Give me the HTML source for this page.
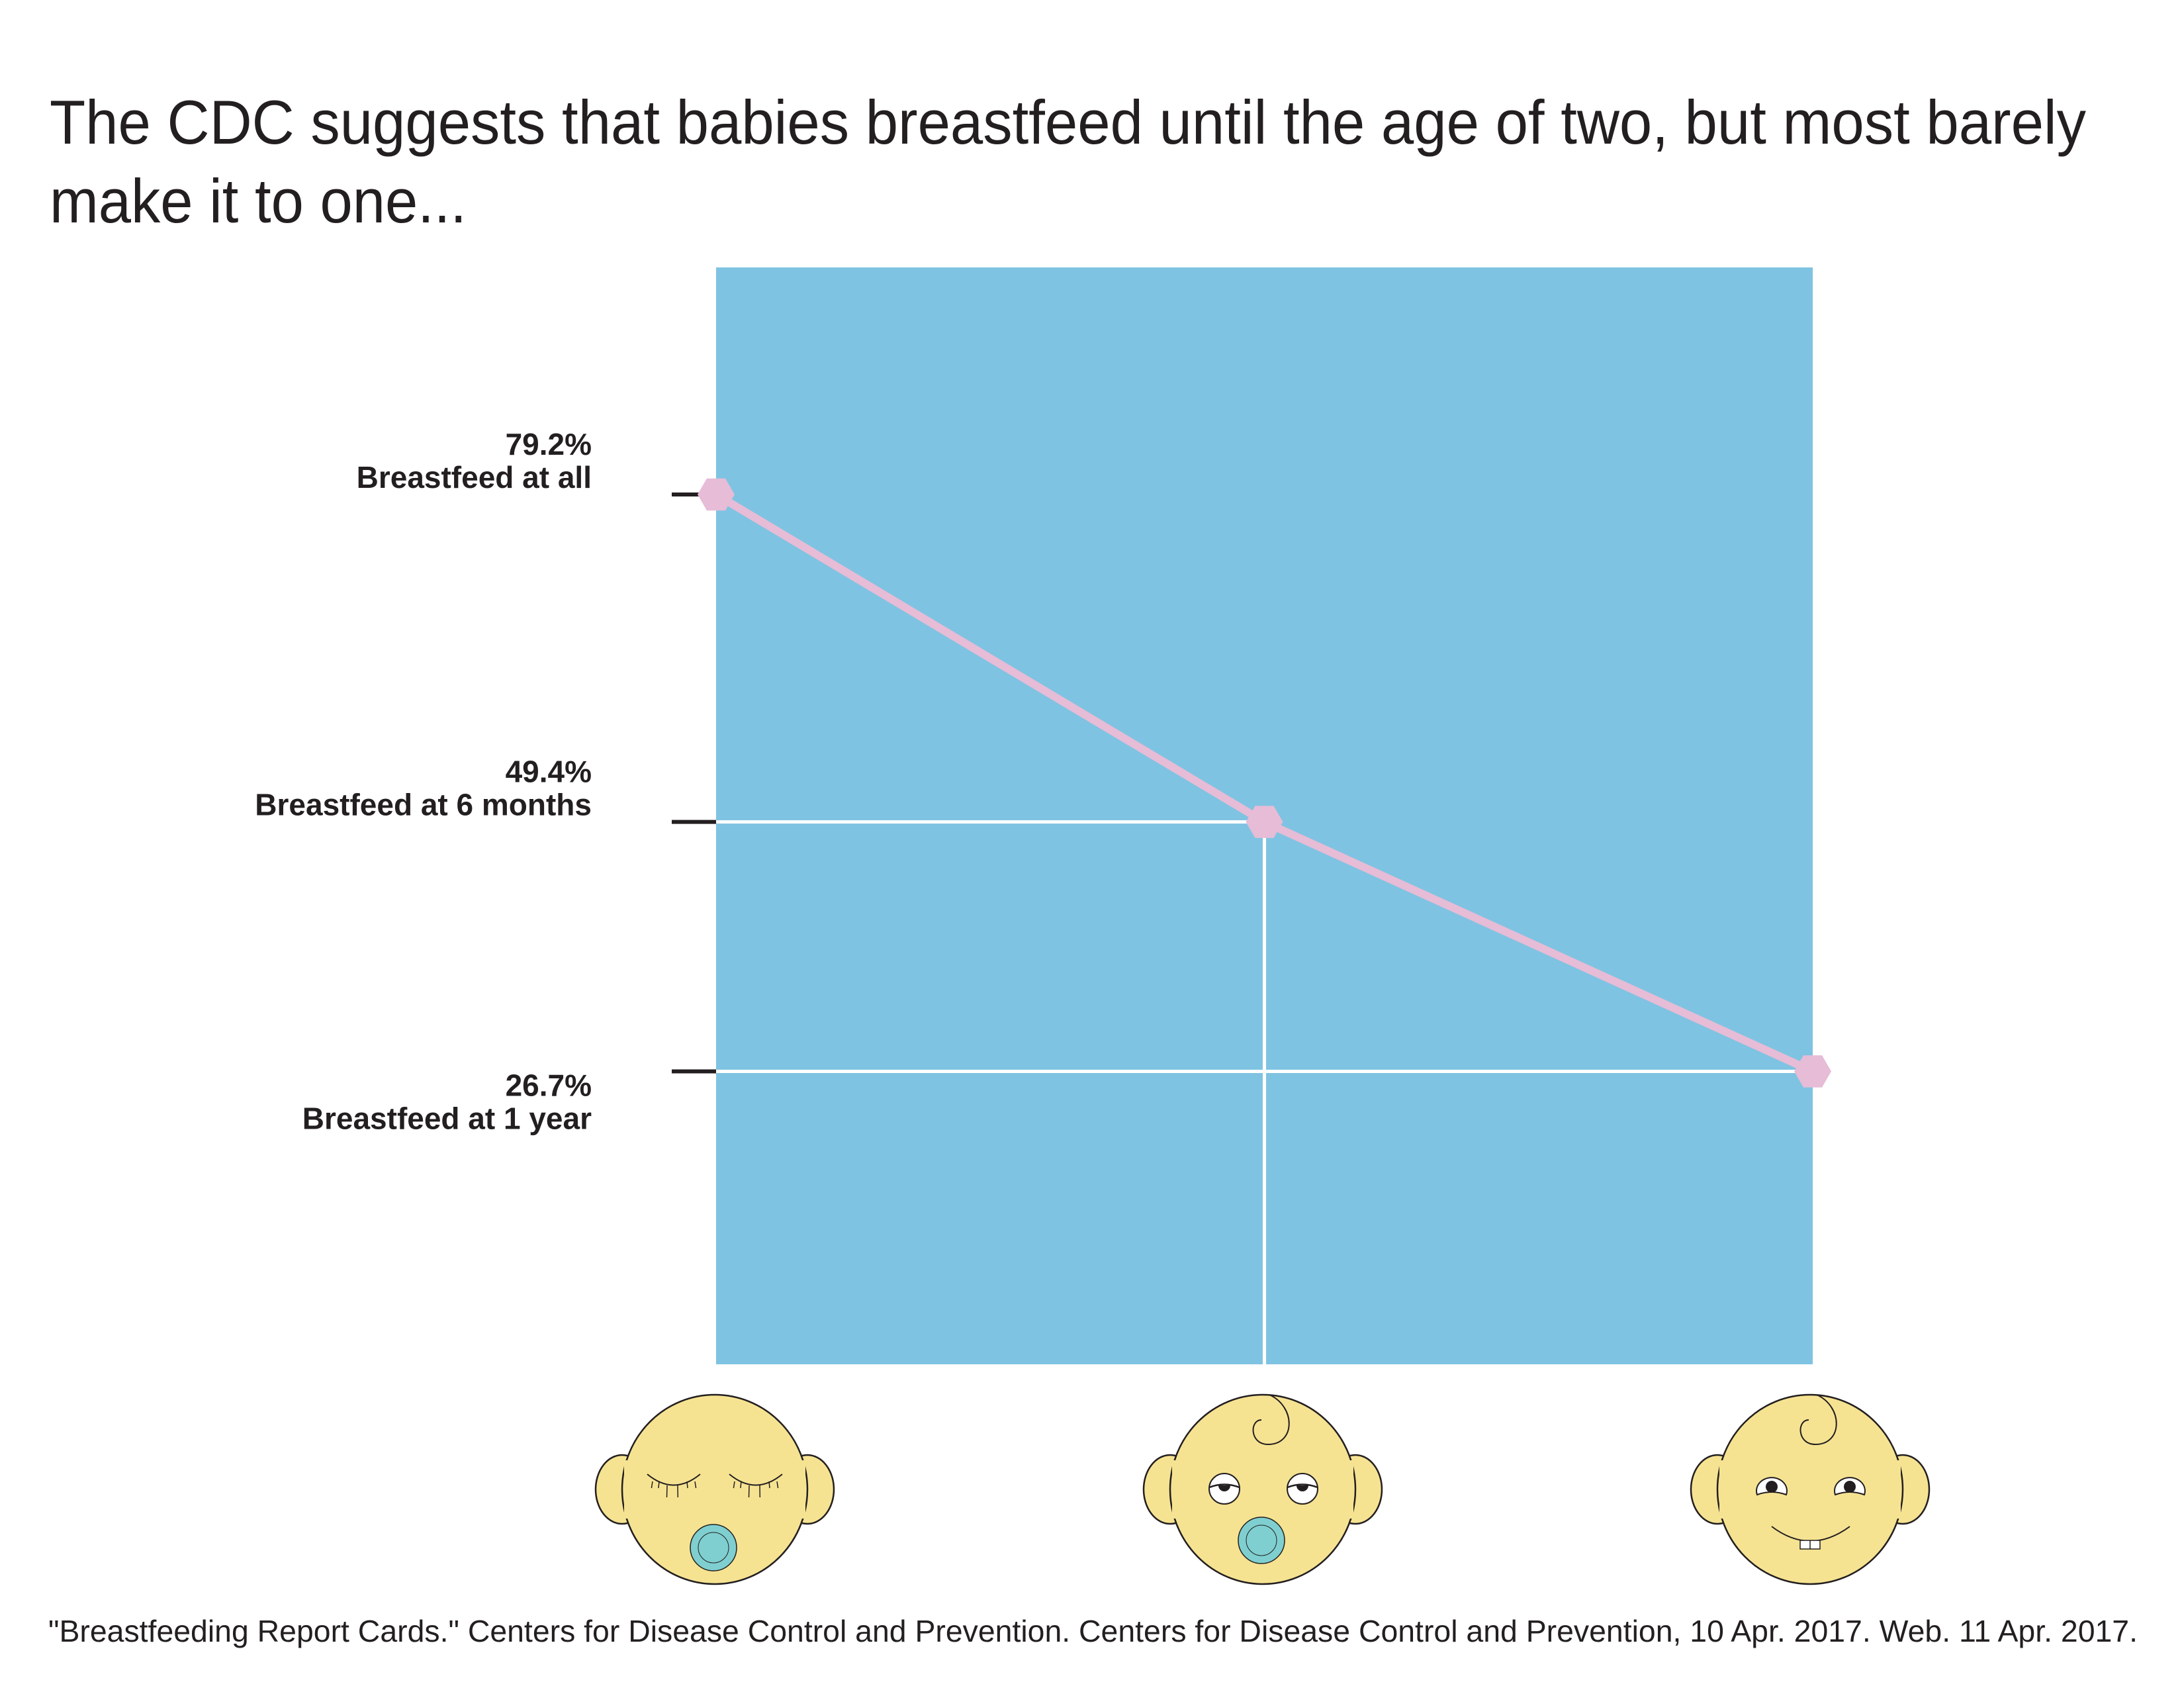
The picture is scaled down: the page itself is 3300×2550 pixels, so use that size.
<!DOCTYPE html>
<html><head><meta charset="utf-8"><style>
html,body{margin:0;padding:0;background:#fff;}
svg{display:block;}
</style></head><body>
<svg id="chart" width="3300" height="2550" viewBox="0 0 3300 2550" xmlns="http://www.w3.org/2000/svg">
<text x="75" y="217" font-family="Liberation Sans, sans-serif" font-size="94" fill="#231f20" textLength="3077" lengthAdjust="spacingAndGlyphs">The CDC suggests that babies breastfeed until the age of two, but most barely</text>
<text x="75" y="336" font-family="Liberation Sans, sans-serif" font-size="94" fill="#231f20" textLength="630" lengthAdjust="spacingAndGlyphs">make it to one...</text>
<rect x="1082" y="404" width="1657" height="1657" fill="#7fc3e2"/>
<g id="grid"></g><g id="ticks"></g><g id="series"></g>
<g id="faces"></g>
<text x="73" y="2480" font-family="Liberation Sans, sans-serif" font-size="46" fill="#231f20" textLength="3157" lengthAdjust="spacingAndGlyphs">"Breastfeeding Report Cards." Centers for Disease Control and Prevention. Centers for Disease Control and Prevention, 10 Apr. 2017. Web. 11 Apr. 2017.</text>
</svg>
<script>
const categories = ["Breastfeed at all", "Breastfeed at 6 months", "Breastfeed at 1 year"];
const values = [79.2, 49.4, 26.7];
const valueLabels = ["79.2%", "49.4%", "26.7%"];
const NS = "http://www.w3.org/2000/svg";
const plotL = 1082, plotR = 2739, plotB = 2061;
function xScale(i){ return plotL + i * (plotR - plotL) / (categories.length - 1); }
function yScale(v){ return 747 + (79.2 - v) * 16.6; }
function mk(tag, attrs, parent){ const e = document.createElementNS(NS, tag); for (const k in attrs) e.setAttribute(k, attrs[k]); parent.appendChild(e); return e; }
const grid = document.getElementById('grid'), ticks = document.getElementById('ticks'), series = document.getElementById('series'), faces = document.getElementById('faces');
for (let i = 1; i < values.length; i++) {
  const y = yScale(values[i]);
  const hl = mk('line', {x1: plotL, x2: xScale(i), y1: y, y2: y, stroke: '#fff', 'stroke-width': 5}, grid);
  
  
  if (i < values.length - 1) {
    const vl = mk('line', {x1: xScale(i), x2: xScale(i), y1: y, y2: plotB, stroke: '#fff', 'stroke-width': 5}, grid);
    
    
  }
}
values.forEach((v, i) => {
  const y = yScale(v);
  const t = mk('line', {x1: 1015, x2: 1082, y1: y, y2: y, stroke: '#231f20', 'stroke-width': 6}, ticks);
  
  
  const pctY = i === 2 ? y + 37 : y - 60;
  const p = mk('text', {x: 894, y: pctY, 'text-anchor': 'end', 'font-family': 'Liberation Sans, sans-serif', 'font-weight': 'bold', 'font-size': 46, fill: '#231f20'}, ticks);
  p.textContent = valueLabels[i];
  
  
  const c = mk('text', {x: 894, y: pctY + 50, 'text-anchor': 'end', 'font-family': 'Liberation Sans, sans-serif', 'font-weight': 'bold', 'font-size': 46, fill: '#231f20'}, ticks);
  c.textContent = categories[i];
  
  
});
const pts = values.map((v, i) => xScale(i) + ',' + yScale(v)).join(' ');
const pl = mk('polyline', {points: pts, fill: 'none', stroke: '#e6bcd6', 'stroke-width': 12, 'stroke-linejoin': 'round'}, series);


values.forEach((v, i) => {
  const cx = xScale(i), cy = yScale(v), r = 28;
  let hp = [];
  for (let k = 0; k < 6; k++) { const a = Math.PI / 3 * k; hp.push((cx + r * Math.cos(a)) + ',' + (cy + r * Math.sin(a))); }
  const m = mk('polygon', {points: hp.join(' '), fill: '#e6bcd6'}, series);
  
  
});
const faceX = [1080, 1908, 2735];
function face(i) {
  const cx = faceX[i], cy = 2250;
  const g = mk('g', {}, faces);
  
  
  const st = {fill: '#f6e392', stroke: '#231f20', 'stroke-width': 2.5};
  mk('ellipse', Object.assign({cx: cx - 140, cy: cy, rx: 40, ry: 52}, st), g);
  mk('ellipse', Object.assign({cx: cx + 140, cy: cy, rx: 40, ry: 52}, st), g);
  mk('ellipse', Object.assign({cx: cx, cy: cy, rx: 140, ry: 143}, st), g);
  mk('rect', {x: cx - 137, y: cy - 44, width: 16, height: 88, fill: '#f6e392'}, g);
  mk('rect', {x: cx + 121, y: cy - 44, width: 16, height: 88, fill: '#f6e392'}, g);
  if (i > 0) mk('path', {d: `M${cx+10},${cy-143} C${cx+50},${cy-125} ${cx+50},${cy-68} ${cx+8},${cy-68} C${cx-20},${cy-68} ${cx-20},${cy-105} ${cx-2},${cy-105}`, fill: 'none', stroke: '#231f20', 'stroke-width': 2}, g);
  if (i === 0) {
    [-62, 62].forEach(dx => {
      mk('path', {d: `M${cx+dx-40},${cy-23} Q${cx+dx},${cy+10} ${cx+dx+40},${cy-23}`, fill: 'none', stroke: '#231f20', 'stroke-width': 2}, g);
      [-32,-22,-10,6,20,32].forEach((o, k) => mk('line', {x1: cx+dx+o, y1: cy-12 + (Math.abs(o) < 15 ? 6 : 0), x2: cx+dx+o*1.05, y2: cy+(Math.abs(o) < 15 ? 12 : -2), stroke: '#231f20', 'stroke-width': 1.5}, g));
    });
  } else if (i === 1) {
    [-58, 60].forEach(dx => {
      mk('circle', {cx: cx+dx, cy: cy-1, r: 23, fill: '#fff', stroke: '#231f20', 'stroke-width': 2}, g);
      mk('path', {d: `M${cx+dx-23},${cy-3} Q${cx+dx},${cy-12} ${cx+dx+23},${cy-3}`, fill: 'none', stroke: '#231f20', 'stroke-width': 2.5}, g);
      mk('path', {d: `M${cx+dx-9},${cy-6} A9 9 0 0 0 ${cx+dx+9},${cy-6} Z`, fill: '#231f20'}, g);
    });
  } else {
    [-58, 60].forEach(dx => {
      mk('path', {d: `M${cx+dx-22},${cy+8} A23 20 0 1 1 ${cx+dx+22},${cy+8} Q${cx+dx},${cy} ${cx+dx-22},${cy+8} Z`, fill: '#fff', stroke: '#231f20', 'stroke-width': 2}, g);
      mk('circle', {cx: cx+dx, cy: cy-4, r: 9, fill: '#231f20'}, g);
    });
  }
  if (i < 2) {
    const py = i === 0 ? cy + 88 : cy + 77;
    mk('circle', {cx: cx - 2, cy: py, r: 35, fill: '#7fcfd0', stroke: '#231f20', 'stroke-width': 1.5}, g);
    mk('circle', {cx: cx - 2, cy: py, r: 23, fill: 'none', stroke: '#231f20', 'stroke-width': 1}, g);
  } else {
    mk('path', {d: `M${cx-58},${cy+56} Q${cx},${cy+100} ${cx+60},${cy+56}`, fill: 'none', stroke: '#231f20', 'stroke-width': 2}, g);
    mk('rect', {x: cx - 15, y: cy + 77, width: 30, height: 13, fill: '#fff', stroke: '#231f20', 'stroke-width': 1.5}, g);
    mk('line', {x1: cx, y1: cy + 77, x2: cx, y2: cy + 90, stroke: '#231f20', 'stroke-width': 1.5}, g);
  }
}
categories.forEach((c, i) => face(i));
</script>
</body></html>
